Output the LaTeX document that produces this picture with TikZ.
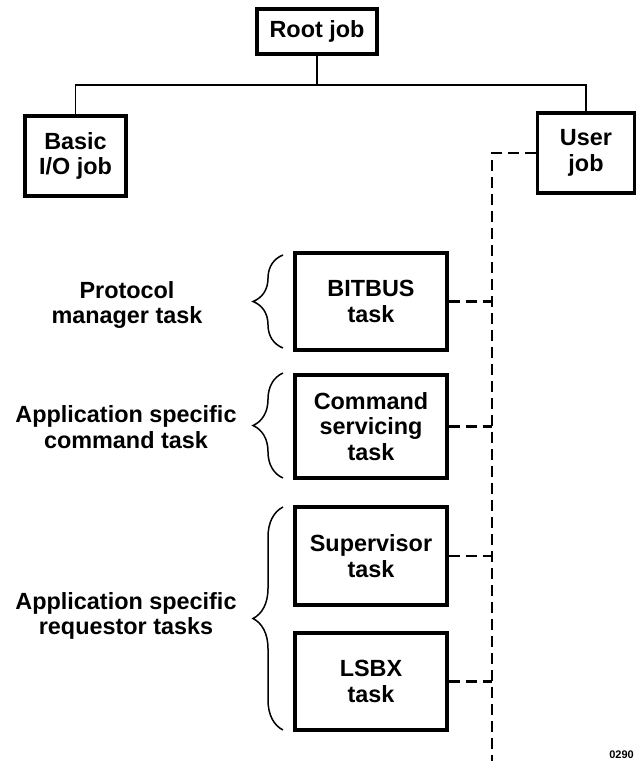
\documentclass[tikz,border=0pt]{standalone}
\usepackage{fontspec}
\setmainfont{Liberation Sans}
\usetikzlibrary{decorations.pathreplacing}
\tikzset{
  jobbox/.style={draw, line width=3.2pt, align=center, inner sep=0pt,
    font=\fontsize{23.4}{25.5}\selectfont\bfseries},
  lbl/.style={align=center, inner sep=0pt,
    font=\fontsize{23.4}{25.5}\selectfont\bfseries},
  tree/.style={line width=1.8pt},
  dashlink/.style={line width=2.8pt, dash pattern=on 11pt off 6pt},
  bracestyle/.style={line width=1.5pt, decorate, decoration={brace, amplitude=30pt, aspect=0.5}}
}
\begin{document}
\begin{tikzpicture}[x=1pt,y=1pt]
\useasboundingbox (0,0) rectangle (636,-761);
% jobs
\node[jobbox, minimum width=120pt, minimum height=45pt] (root) at (317,-31.5) {Root job};
\node[jobbox, minimum width=101pt, minimum height=80pt] (basic) at (75.5,-156) {Basic\\I/O job};
\node[jobbox, minimum width=97pt, minimum height=80pt] (user) at (586,-153) {User\\job};
% tasks
\node[jobbox, minimum width=152pt, minimum height=97pt] (bitbus) at (371,-301.5) {BITBUS\\task};
\node[jobbox, minimum width=152pt, minimum height=103pt] (cmd) at (371,-426.5) {Command\\servicing\\task};
\node[jobbox, minimum width=152pt, minimum height=98pt] (sup) at (371,-556) {Supervisor\\task};
\node[jobbox, minimum width=152pt, minimum height=97pt] (lsbx) at (371,-681.5) {LSBX\\task};
% tree connectors
\coordinate (j) at (317,-85);
\draw[tree] (root.south) -- (j);
\draw[tree] (j) -| (basic.north);
\draw[tree] (j) -| (user.north);
% dashed user job links
\coordinate (dtop) at (492,-153);
\coordinate (dbot) at (492,-761);
\draw[dashlink] (user.west) -- (dtop) -- (dbot);
\draw[dashlink] (bitbus.east) -- (bitbus.east -| dtop);
\draw[dashlink] (cmd.east) -- (cmd.east -| dtop);
\draw[dashlink] (sup.east) -- (sup.east -| dtop);
\draw[dashlink] (lsbx.east) -- (lsbx.east -| dtop);
% braces
\coordinate (b1s) at (283,-348);
\coordinate (b1e) at (283,-255);
\coordinate (b2s) at (283,-478);
\coordinate (b2e) at (283,-373);
\coordinate (b3s) at (283,-730);
\coordinate (b3e) at (283,-507);
\draw[bracestyle] (b1s) -- (b1e);
\draw[bracestyle] (b2s) -- (b2e);
\draw[bracestyle] (b3s) -- (b3e);
% labels
\node[lbl] (l1) at (127,-305) {Protocol\\manager task};
\node[lbl] (l2) at (126,-427) {Application specific\\command task};
\node[lbl] (l3) at (126,-616) {Application specific\\requestor tasks};
% figure number
\node[anchor=south east, inner sep=0pt, font=\fontsize{11}{11}\selectfont\bfseries] (fig) at (634,-759) {0290};
\end{tikzpicture}
\end{document}
